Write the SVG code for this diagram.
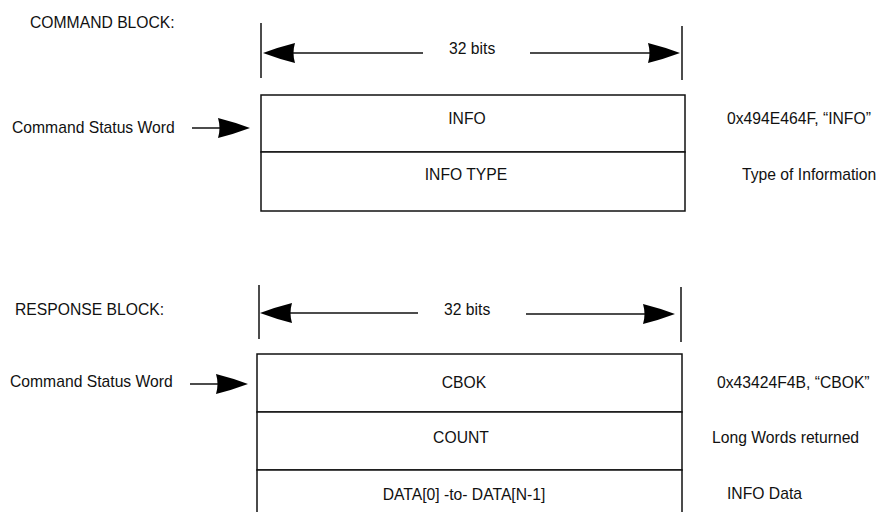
<svg xmlns="http://www.w3.org/2000/svg" width="883" height="512" viewBox="0 0 883 512">
<defs>
<style>
text{font-family:"Liberation Sans",Arial,sans-serif;font-size:15.7px;fill:#111}
.c{text-anchor:middle}
.ln{stroke:#111;stroke-width:1.5;fill:none}
.box{stroke:#111;stroke-width:1.5;fill:#fff}
.ah{fill:#000;stroke:none}
</style>
<path id="ahL" d="M0,0 Q16,-6 32,-10 Q29,0 32,10 Q16,6 0,0 Z"/>
<path id="ahR" d="M0,0 Q-16,-6 -32,-10 Q-29,0 -32,10 Q-16,6 0,0 Z"/>
</defs>
<rect width="883" height="512" fill="#fff"/>
<g id="labels">
<text x="30" y="28">COMMAND BLOCK:</text>
<text x="15" y="315">RESPONSE BLOCK:</text>
<text x="12" y="133">Command Status Word</text>
<text x="10" y="387">Command Status Word</text>
<text x="727" y="124">0x494E464F, “INFO”</text>
<text x="742" y="180">Type of Information</text>
<text x="717" y="388">0x43424F4B, “CBOK”</text>
<text x="712" y="443">Long Words returned</text>
<text x="727" y="499">INFO Data</text>
<text x="449" y="54">32 bits</text>
<text x="444" y="315">32 bits</text>
</g>
<g id="cmd-info">
<rect class="box" x="261" y="95" width="424" height="57"/>
<text class="c" x="467" y="124">INFO</text>
</g>
<g id="cmd-infotype">
<rect class="box" x="261" y="152" width="424" height="59"/>
<text class="c" x="466" y="180">INFO TYPE</text>
</g>
<g id="rsp-cbok">
<rect class="box" x="257" y="354" width="425" height="58"/>
<text class="c" x="464" y="388">CBOK</text>
</g>
<g id="rsp-count">
<rect class="box" x="257" y="412" width="425" height="58"/>
<text class="c" x="461" y="443">COUNT</text>
</g>
<g id="rsp-data">
<rect class="box" x="257" y="470" width="425" height="50"/>
<text class="c" x="464" y="500">DATA[0] -to- DATA[N-1]</text>
</g>
<g id="connectors">
<line class="ln" x1="261" y1="23" x2="261" y2="78"/>
<line class="ln" x1="682" y1="26" x2="682" y2="80"/>
<line class="ln" x1="290" y1="53" x2="423" y2="53"/>
<use href="#ahL" class="ah" x="263" y="53"/>
<line class="ln" x1="530" y1="53" x2="652" y2="53"/>
<use href="#ahR" class="ah" x="680" y="53"/>
<line class="ln" x1="192" y1="128" x2="222" y2="128"/>
<use href="#ahR" class="ah" x="250" y="128"/>
<line class="ln" x1="259" y1="285" x2="259" y2="339"/>
<line class="ln" x1="681" y1="287" x2="681" y2="342"/>
<line class="ln" x1="286" y1="313" x2="418" y2="313"/>
<use href="#ahL" class="ah" x="260" y="313"/>
<line class="ln" x1="526" y1="314" x2="647" y2="314"/>
<use href="#ahR" class="ah" x="675" y="314"/>
<line class="ln" x1="190" y1="384" x2="222" y2="384"/>
<use href="#ahR" class="ah" x="248" y="384"/>
</g>
</svg>
